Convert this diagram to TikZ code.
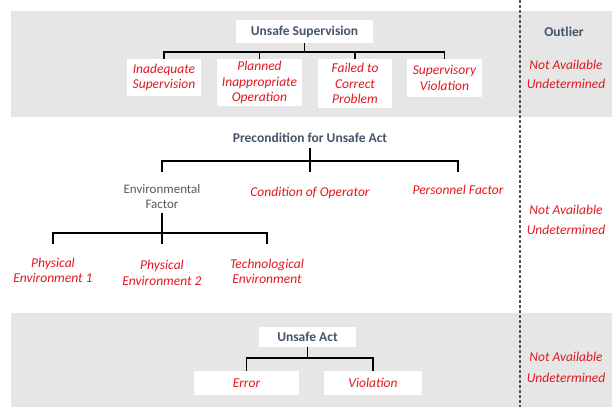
\documentclass[tikz,border=0pt]{standalone}
\usepackage{fontspec}
\setmainfont{Carlito}
\definecolor{bandgray}{HTML}{E7E6E6}
\definecolor{slate}{HTML}{44546A}
\definecolor{hred}{HTML}{E0181F}
\definecolor{efgray}{HTML}{595959}
\begin{document}
\begin{tikzpicture}[x=1pt,y=-1pt,
  head/.style={font=\fontsize{13.5}{15}\selectfont\bfseries, text=slate, inner sep=0pt},
  headbox/.style={head, fill=white},
  item/.style={font=\fontsize{13.5}{15.5}\selectfont\itshape, text=hred, align=center, inner sep=0pt},
  itembox/.style={item, fill=white},
  tree/.style={draw=black, line width=1.1pt},
  sep/.style={draw=slate, line width=1.1pt, dash pattern=on 3pt off 2pt}]
\useasboundingbox (0,0) rectangle (612,407);
% bands
\fill[bandgray] (11,11) rectangle (612,117);
\fill[bandgray] (11,313) rectangle (612,407);
% separator
\draw[sep] (520,0) -- (520,407);

% ---- Unsafe supervision
\node[headbox, minimum width=137pt, minimum height=23pt] (us) at (304.5,31.5) {Unsafe Supervision};
\node[itembox, minimum width=74pt, minimum height=37pt] (c1) at (164,77.5) {Inadequate\\Supervision};
\node[itembox, minimum width=85pt, minimum height=47pt] (c2) at (259.5,82.5) {Planned\\Inappropriate\\Operation};
\node[itembox, minimum width=74pt, minimum height=49pt] (c3) at (355,83.5) {Failed to\\Correct\\Problem};
\node[itembox, minimum width=75pt, minimum height=38pt] (c4) at (444.5,78) {Supervisory\\Violation};
\coordinate (bar1) at (0,52);
\draw[tree] (c1.north) |- (us.south |- bar1) -| (c4.north);
\draw[tree] (us.south) -- (us.south |- bar1);
\draw[tree] (c2.north) -- (c2.north |- bar1);
\draw[tree] (c3.north) -- (c3.north |- bar1);

\node[head] (out) at (564,32) {Outlier};
\node[item] (na1) at (566,65) {Not Available};
\node[item] (ud1) at (566,84) {Undetermined};

% ---- Precondition
\node[head] (pre) at (310,138) {Precondition for Unsafe Act};
\node[font=\fontsize{13}{15.5}\selectfont, text=efgray, align=center, inner sep=0pt] (ef) at (162,196.5) {Environmental\\Factor};
\node[item] (co) at (310,193) {Condition of Operator};
\node[item] (pf) at (458,190) {Personnel Factor};
\coordinate (top2) at (0,148);
\coordinate (bar2) at (0,161);
\coordinate (bot2) at (0,172);
\draw[tree] (co.north |- top2) -- (co.north |- bot2);
\draw[tree] (ef.north |- bot2) |- (pre.south |- bar2) -| (pf.north |- bot2);

\node[item] (pe1) at (53,270.5) {Physical\\Environment 1};
\node[item] (pe2) at (162,273) {Physical\\Environment 2};
\node[item] (te) at (267,271.5) {Technological\\Environment};
\coordinate (top3) at (0,213);
\coordinate (bar3) at (0,233);
\coordinate (bot3) at (0,244);
\draw[tree] (ef.south |- top3) -- (pe2.north |- bot3);
\draw[tree] (pe1.north |- bot3) |- (ef.south |- bar3) -| (te.north |- bot3);

\node[item] (na2) at (566,210) {Not Available};
\node[item] (ud2) at (566,230) {Undetermined};

% ---- Unsafe act
\node[headbox, minimum width=97pt, minimum height=20pt] (ua) at (307.5,336.5) {Unsafe Act};
\node[itembox, minimum width=105pt, minimum height=24pt] (er) at (246.5,383) {Error};
\node[itembox, minimum width=98pt, minimum height=24pt] (vi) at (373,383) {Violation};
\coordinate (bar4) at (0,358);
\draw[tree] (ua.south) -- (ua.south |- bar4);
\draw[tree] (er.north) |- (ua.south |- bar4) -| (vi.north);

\node[item] (na3) at (566,357) {Not Available};
\node[item] (ud3) at (566,378) {Undetermined};
\end{tikzpicture}
\end{document}
